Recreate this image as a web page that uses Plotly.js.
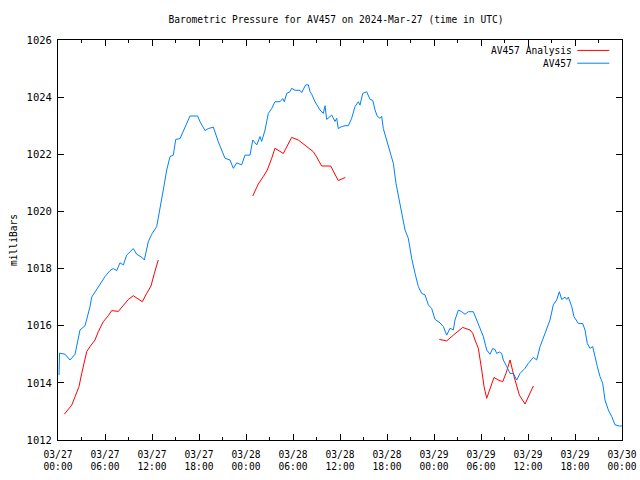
<!DOCTYPE html>
<html>
<head>
<meta charset="utf-8">
<script src="https://cdn.plot.ly/plotly-3.0.1.min.js"></script>
<style>html,body{margin:0;padding:0;background:#fff;}#chart{width:640px;height:480px;}</style>
</head>
<body>
<div id="chart"></div>
<script>
// hours since 2024-03-27 00:00 UTC
const obsHours = [0.13,0.2,0.9,1.53,2.17,2.81,3.45,4.09,4.3,5.15,6.0,6.64,7.06,7.49,7.91,8.34,8.77,9.61,10.05,10.68,11.02,11.53,11.96,12.6,13.02,13.44,13.88,14.3,14.72,15.03,15.58,16.21,16.85,17.83,18.13,18.77,19.19,19.83,20.46,21.32,21.96,22.38,22.81,23.45,23.87,24.51,24.86,25.37,25.79,26.0,26.43,26.85,27.28,27.7,28.34,28.69,28.89,29.2,29.62,29.83,30.26,30.89,31.11,31.62,31.96,32.17,32.39,32.81,33.45,33.87,34.09,34.3,34.94,35.36,35.58,35.78,36.22,36.64,37.06,37.49,37.92,38.34,38.55,38.9,39.41,39.83,40.18,40.47,40.76,41.11,41.32,41.53,41.96,42.38,42.81,43.15,43.45,43.88,44.3,44.72,45.15,45.58,46.0,46.43,46.85,47.28,47.71,48.13,48.77,49.19,49.62,50.04,50.47,50.68,51.11,51.54,51.96,52.38,53.02,53.45,53.87,54.3,54.73,55.15,55.49,55.79,56.0,56.34,56.64,56.85,57.28,57.71,58.13,58.56,58.98,59.62,60.04,60.68,61.11,61.54,62.17,62.81,63.23,63.66,64.0,64.3,64.73,64.94,65.15,65.58,65.87,66.42,66.98,67.28,67.57,67.91,68.26,68.55,68.85,69.19,69.53,69.83,70.26,70.69,71.11,71.66,72.0];
const obsPressure = [1014.27,1015.04,1015.0,1014.8,1015.0,1015.85,1016.0,1016.67,1017.0,1017.37,1017.72,1017.93,1018.0,1017.93,1018.2,1018.13,1018.47,1018.7,1018.5,1018.4,1018.3,1018.94,1019.2,1019.47,1020.05,1020.75,1021.45,1021.92,1021.97,1022.52,1022.55,1022.97,1023.34,1023.34,1023.14,1022.83,1022.9,1022.95,1022.44,1021.86,1021.8,1021.51,1021.7,1021.63,1021.97,1021.97,1022.5,1022.33,1022.62,1022.45,1022.85,1023.43,1023.6,1023.84,1023.84,1023.95,1023.84,1024.13,1024.19,1024.31,1024.24,1024.24,1024.16,1024.43,1024.43,1024.2,1024.1,1023.84,1023.55,1023.43,1023.7,1023.22,1023.37,1023.15,1023.26,1022.9,1022.97,1023.0,1023.0,1023.26,1023.67,1023.84,1023.72,1024.13,1024.19,1023.92,1023.89,1023.55,1023.33,1023.26,1023.33,1022.9,1022.5,1022.15,1021.68,1020.98,1020.52,1019.93,1019.35,1019.06,1018.36,1017.83,1017.37,1017.13,1017.08,1016.73,1016.6,1016.22,1016.1,1015.97,1015.67,1015.91,1015.85,1016.2,1016.55,1016.49,1016.4,1016.49,1016.49,1016.2,1015.91,1015.62,1015.15,1015.0,1015.2,1015.17,1015.03,1015.08,1015.03,1014.8,1014.57,1014.33,1014.33,1014.1,1014.33,1014.51,1014.68,1014.89,1014.8,1015.27,1015.73,1016.2,1016.73,1016.9,1017.19,1016.92,1017.0,1016.92,1017.0,1016.67,1016.32,1016.08,1016.08,1015.85,1015.38,1015.21,1015.27,1014.86,1014.57,1014.22,1013.99,1013.4,1013.05,1012.82,1012.53,1012.49,1012.49];

const anaHours = [0.8,1.75,2.17,2.68,3.03,3.36,3.66,4.09,4.72,5.15,5.78,6.42,6.85,7.7,8.34,8.98,9.61,10.25,10.76,11.32,11.87,12.3,12.8,null,
  24.86,25.57,26.21,26.72,27.28,27.7,28.76,29.83,30.68,31.75,32.59,33.03,33.66,34.81,35.78,36.68,null,
  48.68,49.62,50.47,51.66,52.6,52.94,53.23,53.66,54.09,54.39,54.73,55.15,55.66,56.21,56.77,57.19,57.71,58.22,58.64,58.9,59.62,60.17,60.68];
const anaPressure = [1012.9,1013.22,1013.51,1013.87,1014.33,1014.8,1015.09,1015.27,1015.5,1015.79,1016.14,1016.35,1016.53,1016.5,1016.73,1016.92,1017.05,1016.95,1016.84,1017.13,1017.39,1017.83,1018.3,null,
  1020.54,1020.96,1021.22,1021.45,1021.86,1022.21,1022.03,1022.59,1022.5,1022.27,1022.09,1021.9,1021.59,1021.59,1021.08,1021.19,null,
  1015.52,1015.47,1015.67,1015.94,1015.85,1015.74,1015.5,1015.21,1014.45,1013.87,1013.46,1013.81,1014.19,1014.1,1014.04,1014.33,1014.8,1014.22,1013.81,1013.57,1013.26,1013.57,1013.89];

const tickHours = [0,6,12,18,24,30,36,42,48,54,60,66,72];
const tickLabels = ["03/27<br>00:00","03/27<br>06:00","03/27<br>12:00","03/27<br>18:00","03/28<br>00:00","03/28<br>06:00","03/28<br>12:00","03/28<br>18:00","03/29<br>00:00","03/29<br>06:00","03/29<br>12:00","03/29<br>18:00","03/30<br>00:00"];
const seriesNames = ["AV457 Analysis","AV457"];
const seriesColors = ["#ff0000","#0080ff"];

const FONT = "DejaVu Sans Mono, Liberation Mono, monospace";
const FS = 9.6;

const traces = [
  {x: anaHours, y: anaPressure, name: seriesNames[0], mode: "lines", connectgaps: false,
   line: {color: seriesColors[0], width: 1}, showlegend: false},
  {x: obsHours, y: obsPressure, name: seriesNames[1], mode: "lines",
   line: {color: seriesColors[1], width: 1}, showlegend: false}
];

const annotations = [];
const shapes = [];
seriesNames.forEach((n, i) => {
  const yp = 0.974 - i * 0.032;
  annotations.push({xref: "paper", yref: "paper", x: 0.914, y: yp, xanchor: "right", yanchor: "middle",
    text: n, showarrow: false, borderpad: 0, font: {family: FONT, size: FS, color: "#000"}});
  shapes.push({type: "line", xref: "paper", yref: "paper", x0: 0.9207, x1: 0.9775, y0: yp, y1: yp,
    line: {color: seriesColors[i], width: 1}});
});

const layout = {
  width: 640, height: 480,
  margin: {l: 58, r: 18, t: 40, b: 40, pad: 0},
  paper_bgcolor: "#fff", plot_bgcolor: "#fff",
  font: {family: FONT, size: FS, color: "#000"},
  title: {text: "Barometric Pressure for AV457 on 2024-Mar-27 (time in UTC)",
    x: 0.525, xanchor: "center", y: 0.96, yanchor: "middle", font: {family: FONT, size: FS}},
  xaxis: {range: [0, 72], tickvals: tickHours, ticktext: tickLabels, showgrid: false, zeroline: false,
    ticks: "inside", ticklen: 6, tickcolor: "#000", showline: true, linecolor: "#000", linewidth: 1,
    mirror: "ticks", tickfont: {family: FONT, size: FS}, ticklabelstandoff: 5,
    minor: {dtick: 3, ticks: "inside", ticklen: 3, tickcolor: "#000", showgrid: false}},
  yaxis: {range: [1012, 1026], dtick: 2, tick0: 1012, showgrid: false, zeroline: false,
    ticks: "inside", ticklen: 6, tickcolor: "#000", showline: true, linecolor: "#000", linewidth: 1,
    mirror: "ticks", tickfont: {family: FONT, size: 10.5}, ticklabelstandoff: 3,
    title: {text: "milliBars", font: {family: FONT, size: FS}, standoff: 7}},
  annotations: annotations,
  shapes: shapes,
  showlegend: false
};

Plotly.newPlot("chart", traces, layout, {staticPlot: true, displayModeBar: false});
</script>
</body>
</html>
